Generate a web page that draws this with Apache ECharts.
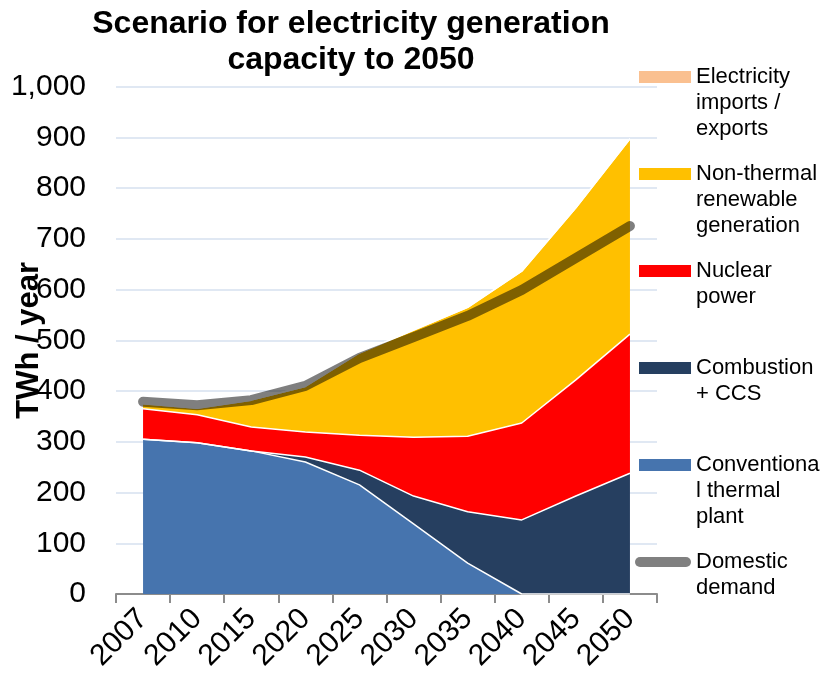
<!DOCTYPE html>
<html>
<head>
<meta charset="utf-8">
<script src="https://cdn.jsdelivr.net/npm/echarts@6/dist/echarts.min.js"></script>
<style>
html,body{margin:0;padding:0;background:#fff;}
#chart{width:830px;height:684px;}
</style>
</head>
<body>
<div id="chart"></div>
<script>
const categories = ['2007','2010','2015','2020','2025','2030','2035','2040','2045','2050'];
const conventional = [305, 298, 282, 260, 215, 138, 61, 0, 0, 0];
const ccs = [0, 0, 0, 10, 29, 55, 101, 146, 193, 238];
const nuclear = [60, 55, 47, 49, 69, 116, 149, 191, 229, 274];
const renewable = [10, 13, 53, 90, 162, 211, 254, 299, 339, 385];
const imports = [0, 0, 0, 0, 0, 0, 0, 0, 0, 0];
const demand = [379, 372, 382, 410, 465, 506, 548, 599, 662, 725];
const yTicks = [0, 100, 200, 300, 400, 500, 600, 700, 800, 900, 1000];

const FONT = "'Liberation Sans', Arial, sans-serif";
const chart = echarts.init(document.getElementById('chart'), null, {renderer: 'canvas'});

function areaSeries(name, data, color) {
  return {
    name: name, type: 'line', stack: 'total', data: data,
    symbol: 'none', smooth: false,
    itemStyle: {color: color},
    lineStyle: {color: '#ffffff', width: 1.5},
    areaStyle: {color: color, opacity: 1},
    emphasis: {disabled: true},
    silent: true, animation: false
  };
}

function legendItem(name, label, iconY, opts) {
  const lines = label.split('\n').length;
  const lh = 26;
  const block = (2 * lines - 1) * lh;
  return Object.assign({
    show: true,
    left: 639,
    top: iconY - block / 2,
    padding: 0,
    itemWidth: 52,
    itemHeight: 12,
    icon: 'rect',
    selectedMode: false,
    itemStyle: {borderWidth: 0},
    formatter: function () { return '\n'.repeat(lines - 1) + label; },
    textStyle: {fontFamily: FONT, fontSize: 22, color: '#000', lineHeight: lh},
    data: [name]
  }, opts || {});
}

const capsule = 'path://M5,0 L51,0 A5,5 0 0 1 51,10 L5,10 A5,5 0 0 1 5,0 Z';

chart.setOption({
  animation: false,
  backgroundColor: '#ffffff',
  title: {
    text: 'Scenario for electricity generation\ncapacity to 2050',
    left: 346, top: 1, textAlign: 'center',
    textStyle: {fontFamily: FONT, fontSize: 32, fontWeight: 'bold', color: '#000', lineHeight: 36}
  },
  legend: [
    legendItem('Electricity imports / exports', 'Electricity\nimports /\nexports', 77),
    legendItem('Non-thermal renewable generation', 'Non-thermal\nrenewable\ngeneration', 174),
    legendItem('Nuclear power', 'Nuclear\npower', 271),
    legendItem('Combustion + CCS', 'Combustion\n+ CCS', 368),
    legendItem('Conventional thermal plant', 'Conventiona\nl thermal\nplant', 465),
    legendItem('Domestic demand', 'Domestic\ndemand', 562, {
      left: 635, itemWidth: 56, itemHeight: 10, icon: capsule,
      itemStyle: {color: '#808080', borderWidth: 0}
    })
  ],
  grid: {left: 116, right: 173, top: 86.5, bottom: 90, containLabel: false, outerBoundsMode: 'none'},
  xAxis: {
    type: 'category',
    data: categories,
    boundaryGap: true,
    axisLine: {show: true, lineStyle: {color: '#8c8c8c', width: 2}},
    axisTick: {show: true, length: 9, alignWithLabel: false, lineStyle: {color: '#8c8c8c', width: 2}},
    axisLabel: {rotate: 45, margin: 20, interval: 0, fontFamily: FONT, fontSize: 30, color: '#000'},
    splitLine: {show: false}
  },
  yAxis: {
    type: 'value',
    min: yTicks[0], max: yTicks[yTicks.length - 1], interval: 100,
    name: 'TWh / year',
    nameLocation: 'middle',
    nameRotate: 90,
    nameGap: 71,
    nameMoveOverlap: false,
    nameTextStyle: {fontFamily: FONT, fontSize: 31, fontWeight: 'bold', color: '#000'},
    axisLine: {show: false},
    axisTick: {show: false},
    axisLabel: {
      margin: 30, fontFamily: FONT, fontSize: 30, color: '#000',
      formatter: function (v) { return v.toLocaleString('en-US'); }
    },
    splitLine: {show: true, lineStyle: {color: '#d6e1ef', width: 1.5}}
  },
  series: [
    areaSeries('Conventional thermal plant', conventional, '#4674AE'),
    areaSeries('Combustion + CCS', ccs, '#263F60'),
    areaSeries('Nuclear power', nuclear, '#FF0000'),
    areaSeries('Non-thermal renewable generation', renewable, '#FFC000'),
    areaSeries('Electricity imports / exports', imports, '#FAC090'),
    {
      name: 'Domestic demand', type: 'line', data: demand,
      symbol: 'none', silent: true, z: 5,
      itemStyle: {color: '#808080'},
      lineStyle: {color: 'rgba(0,0,0,0.5)', width: 10, cap: 'round', join: 'round'},
      emphasis: {disabled: true}
    }
  ]
});
</script>
</body>
</html>
